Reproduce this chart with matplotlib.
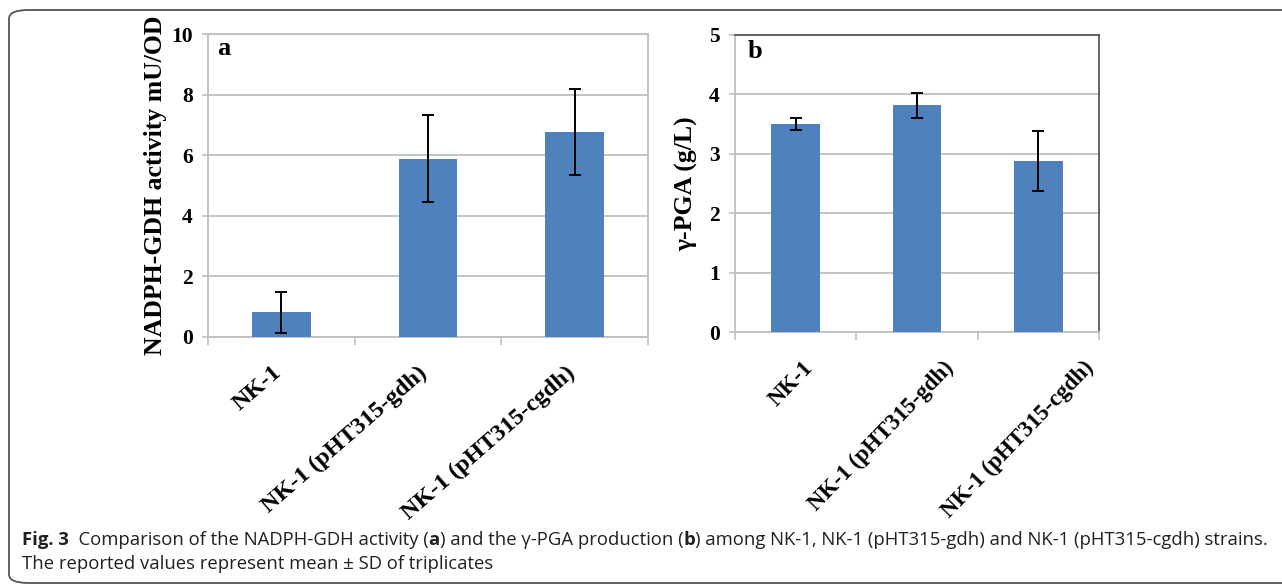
import matplotlib
matplotlib.use("Agg")
import matplotlib.pyplot as plt
from matplotlib.patches import FancyBboxPatch

# data
strains = ["NK-1", "NK-1 (pHT315-gdh)", "NK-1 (pHT315-cgdh)"]
gdh_activity = [0.81, 5.89, 6.77]
gdh_sd = [0.68, 1.43, 1.42]
pga_yield = [3.50, 3.82, 2.88]
pga_sd = [0.10, 0.21, 0.50]

bar_color = "#4F81BD"
grid_color = "#BFBFBF"
serif = "Liberation Serif"

W, H = 1282, 584
fig = plt.figure(figsize=(W / 100, H / 100), dpi=100)


def px_axes(left, top, right, bottom):
    return fig.add_axes([left / W, 1 - bottom / H, (right - left) / W, (bottom - top) / H])


def draw_panel(ax, values, errs, ymax, step, ylabel, tag, tag_pos, edge,
               label_shift, label_rot, label_size, ylabel_pad):
    x = list(range(len(values)))
    ax.bar(x, values, width=0.4, color=bar_color, zorder=3)
    ax.errorbar(x, values, yerr=errs, fmt="none", ecolor="black",
                elinewidth=1.4, capsize=4, capthick=1.4, zorder=4)
    ax.set_xlim(-0.5, len(values) - 0.5)
    ax.set_ylim(0, ymax)
    ax.set_yticks([i * step for i in range(int(ymax / step) + 1)])
    ax.yaxis.grid(True, color=grid_color, linewidth=1.3, zorder=0)
    ax.set_axisbelow(True)
    # labels sit where the original software put them
    ax.set_xticks([i + s for i, s in zip(x, label_shift)])
    ax.set_xticklabels(strains, rotation=label_rot, ha="right", va="top",
                       fontfamily=serif, fontweight="bold", fontsize=label_size)
    ax.set_xticks([i - 0.5 for i in range(len(values) + 1)], minor=True)
    ax.tick_params(axis="x", which="major", length=0, pad=18)
    ax.tick_params(axis="x", which="minor", length=6, width=1.2, color=grid_color)
    ax.tick_params(axis="y", length=4, width=1.2, color=grid_color, pad=7)
    for lab in ax.get_yticklabels():
        lab.set_fontfamily(serif)
        lab.set_fontweight("bold")
        lab.set_fontsize(15.5)
    for side in ["left", "bottom"]:
        ax.spines[side].set_color(grid_color)
        ax.spines[side].set_linewidth(1.3)
    for side in ["top", "right"]:
        ax.spines[side].set_color(edge)
        ax.spines[side].set_linewidth(1.3)
    ax.set_ylabel(ylabel, fontfamily=serif, fontweight="bold", fontsize=18.5,
                  labelpad=ylabel_pad)
    ax.text(tag_pos[0], tag_pos[1], tag, transform=ax.transAxes, fontfamily=serif,
            fontweight="bold", fontsize=19, va="baseline", ha="left")


ax_a = px_axes(208, 34, 648, 337)
draw_panel(ax_a, gdh_activity, gdh_sd, 10, 2, "NADPH-GDH activity mU/OD", "a",
           (0.02, 0.931), grid_color, [0.03, 0.02, 0.03], 41, 17.5, 3)

ax_b = px_axes(735, 35, 1099, 332)
draw_panel(ax_b, pga_yield, pga_sd, 5, 1, "\u03b3-PGA (g/L)", "b",
           (0.036, 0.923), "#595959", [0.18, 0.34, 0.49], 46, 16.5, 8)

# rounded frame around the figure panel
frame = FancyBboxPatch((9 / W, 1 - 583 / H), 1.2, 573 / H,
                       boxstyle="round,pad=0,rounding_size=0.015",
                       transform=fig.transFigure, fill=False,
                       edgecolor="#555555", linewidth=1.3, clip_on=False)
fig.patches.append(frame)

# caption with mixed weights
renderer = fig.canvas.get_renderer()


def rich_line(x_px, y_px, parts, size=13.3):
    x = x_px
    for s, bold in parts:
        t = fig.text(x / W, 1 - y_px / H, s, fontsize=size, family="Open Sans",
                     fontweight="bold" if bold else "normal",
                     color="#231f20", va="baseline", ha="left")
        x += t.get_window_extent(renderer).width


rich_line(22, 545, [("Fig. 3", True),
                    ("  Comparison of the NADPH-GDH activity (", False),
                    ("a", True),
                    (") and the \u03b3-PGA production (", False),
                    ("b", True),
                    (") among NK-1, NK-1 (pHT315-gdh) and NK-1 (pHT315-cgdh) strains.", False)])
rich_line(22, 569, [("The reported values represent mean \u00b1 SD of triplicates", False)])

fig.savefig("out.png", dpi=100)
